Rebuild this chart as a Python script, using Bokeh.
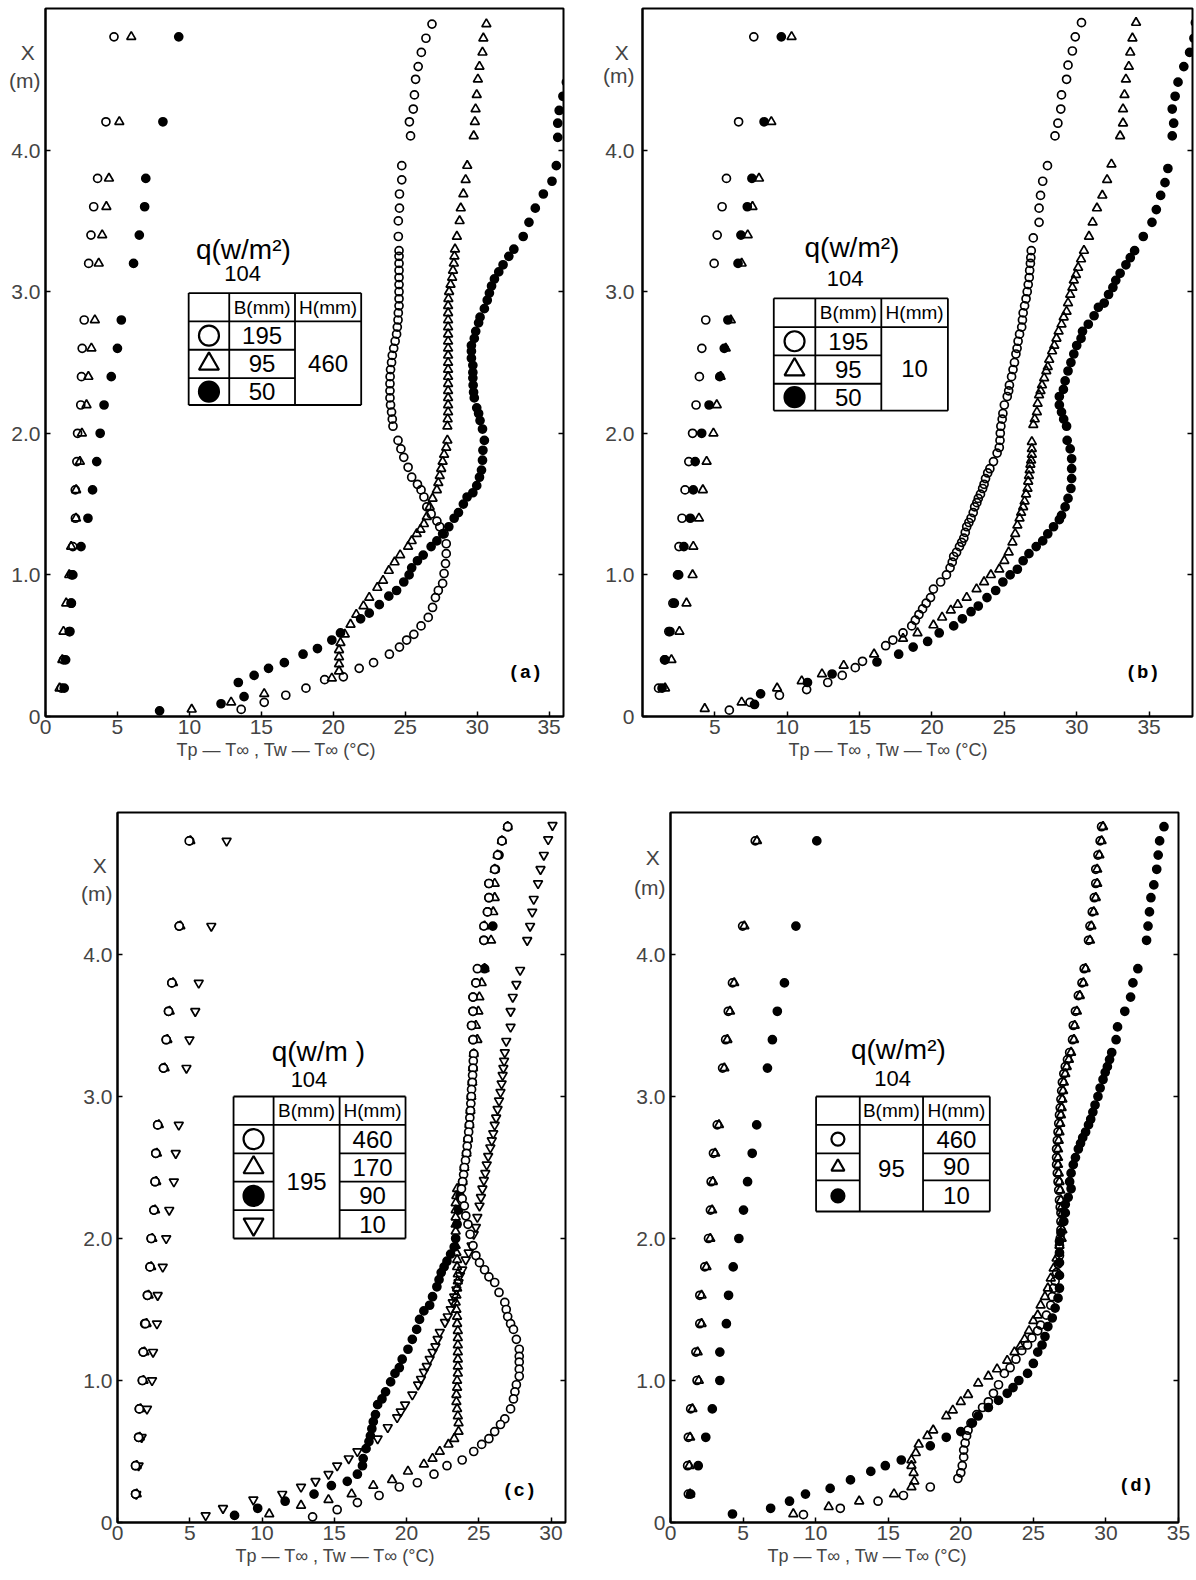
from bokeh.plotting import figure
from bokeh.layouts import column, row
from bokeh.models import Label, FixedTicker, LinearAxis, Range1d, Title
from bokeh.embed import file_html
from bokeh.resources import INLINE

# ---------------- data ----------------
LEFT_H = [0.2, 0.4, 0.6, 0.8, 1.0, 1.2, 1.4, 1.6, 1.8, 2.0, 2.2, 2.4, 2.6, 2.8, 3.2, 3.4, 3.6, 3.8, 4.2, 4.8]
Y_TICKS = [0, 1, 2, 3, 4]
Y_TICK_LABELS = ["0", "1.0", "2.0", "3.0", "4.0"]
X_TICKS_A = [0, 5, 10, 15, 20, 25, 30, 35]
X_TICKS_B = [5, 10, 15, 20, 25, 30, 35]
X_TICKS_C = [0, 5, 10, 15, 20, 25, 30]
X_TICKS_D = [0, 5, 10, 15, 20, 25, 30, 35]

# panel (a): H = 460 mm, B = 195 / 95 / 50 mm
a_left_circ = [1.1, 1.25, 1.65, 1.78, 1.81, 1.9, 2.08, 2.07, 2.18, 2.23, 2.45, 2.5, 2.55, 2.69, 3.0, 3.16, 3.35, 3.62, 4.2, 4.76]
a_left_tri = [0.98, 1.17, 1.25, 1.44, 1.65, 1.78, 2.12, 2.13, 2.39, 2.53, 2.85, 2.98, 3.19, 3.43, 3.7, 3.94, 4.23, 4.41, 5.13, 5.96]
a_left_fill = [1.3, 1.4, 1.7, 1.8, 1.9, 2.47, 2.95, 3.27, 3.56, 3.8, 4.07, 4.57, 5.0, 5.27, 6.12, 6.52, 6.89, 6.97, 8.16, 9.26]
a_wall_circ = [[4.89, 26.86], [4.79, 26.44], [4.69, 26.12], [4.59, 25.9], [4.5, 25.72], [4.39, 25.64], [4.29, 25.56], [4.2, 25.29], [4.1, 25.37],
               [3.89, 24.76], [3.79, 24.76], [3.69, 24.6], [3.59, 24.6], [3.5, 24.52], [3.39, 24.52], [3.29, 24.57], [3.25, 24.57], [3.2, 24.57],
               [3.15, 24.57], [3.1, 24.57], [3.05, 24.57], [3.0, 24.57], [2.95, 24.57], [2.9, 24.57], [2.85, 24.52], [2.8, 24.5], [2.75, 24.45],
               [2.7, 24.4], [2.65, 24.3], [2.6, 24.2], [2.55, 24.1], [2.5, 24.05], [2.45, 23.98], [2.4, 23.95], [2.35, 23.94], [2.3, 23.94],
               [2.25, 23.94], [2.2, 23.98], [2.15, 24.05], [2.1, 24.1], [2.05, 24.15], [1.95, 24.5], [1.89, 24.7], [1.83, 24.9], [1.76, 25.2],
               [1.69, 25.45], [1.64, 25.85], [1.6, 26.1], [1.55, 26.3], [1.48, 26.5], [1.43, 26.8], [1.38, 27.2], [1.34, 27.4], [1.29, 27.7],
               [1.22, 27.85], [1.15, 27.85], [1.08, 27.8], [1.01, 27.7], [0.94, 27.6], [0.89, 27.3], [0.84, 27.1], [0.77, 26.9], [0.7, 26.6],
               [0.64, 26.1], [0.58, 25.6], [0.54, 25.1], [0.49, 24.6], [0.44, 23.9], [0.38, 22.8], [0.34, 21.8], [0.28, 20.7], [0.26, 19.4],
               [0.2, 18.1], [0.15, 16.7], [0.1, 15.2], [0.05, 13.6]]
a_wall_tri = [[4.89, 30.64], [4.79, 30.43], [4.69, 30.37], [4.59, 30.16], [4.5, 30.05], [4.39, 29.97], [4.29, 29.89], [4.2, 29.84], [4.1, 29.76],
              [3.89, 29.31], [3.79, 29.2], [3.69, 29.04], [3.59, 28.86], [3.5, 28.78], [3.39, 28.59], [3.3, 28.46], [3.25, 28.42], [3.2, 28.38],
              [3.15, 28.32], [3.1, 28.26], [3.05, 28.15], [3.0, 28.05], [2.95, 28.0], [2.9, 27.98], [2.85, 27.98], [2.8, 27.98], [2.75, 27.98],
              [2.7, 27.98], [2.65, 27.98], [2.6, 27.98], [2.55, 27.98], [2.5, 27.98], [2.45, 27.98], [2.4, 27.98], [2.35, 27.98], [2.3, 27.98],
              [2.25, 27.98], [2.2, 27.98], [2.15, 27.98], [2.1, 27.95], [2.05, 27.93], [1.95, 27.93], [1.9, 27.85], [1.85, 27.7], [1.8, 27.6],
              [1.75, 27.5], [1.7, 27.4], [1.65, 27.3], [1.6, 27.2], [1.54, 26.9], [1.48, 26.7], [1.41, 26.5], [1.36, 26.3], [1.32, 26.06],
              [1.29, 25.8], [1.24, 25.45], [1.2, 25.2], [1.14, 24.65], [1.09, 24.26], [1.03, 23.86], [0.96, 23.46], [0.91, 23.06], [0.84, 22.5],
              [0.78, 22.1], [0.72, 21.6], [0.65, 21.2], [0.58, 20.8], [0.52, 20.5], [0.47, 20.4], [0.42, 20.4], [0.37, 20.4], [0.32, 20.4],
              [0.27, 19.9], [0.16, 15.2], [0.1, 12.9], [0.05, 10.16]]
a_wall_fill = [[4.88, 37.3], [4.78, 37.2], [4.68, 36.9], [4.59, 36.6], [4.48, 36.2], [4.38, 35.96], [4.28, 35.7], [4.19, 35.6], [4.09, 35.6],
               [3.89, 35.5], [3.78, 35.2], [3.69, 34.6], [3.59, 34.04], [3.49, 33.6], [3.39, 33.2], [3.3, 32.55], [3.25, 32.2], [3.19, 31.8],
               [3.14, 31.5], [3.09, 31.2], [3.04, 31.0], [2.99, 30.85], [2.94, 30.7], [2.88, 30.5], [2.82, 30.2], [2.78, 30.1], [2.72, 29.9],
               [2.67, 29.8], [2.62, 29.6], [2.58, 29.6], [2.53, 29.6], [2.48, 29.7], [2.43, 29.7], [2.39, 29.7], [2.34, 29.72], [2.29, 29.75],
               [2.25, 29.8], [2.18, 29.97], [2.14, 30.1], [2.09, 30.2], [2.03, 30.37], [1.95, 30.5], [1.88, 30.4], [1.81, 30.37], [1.74, 30.3],
               [1.69, 30.16], [1.63, 29.97], [1.58, 29.7], [1.55, 29.3], [1.5, 29.04], [1.44, 28.7], [1.4, 28.4], [1.34, 28.03], [1.29, 27.6],
               [1.24, 27.2], [1.2, 26.8], [1.14, 26.25], [1.1, 25.85], [1.05, 25.45], [1.0, 25.27], [0.95, 24.9], [0.89, 24.4], [0.85, 23.86],
               [0.79, 23.2], [0.73, 22.5], [0.69, 21.9], [0.59, 20.5], [0.54, 19.9], [0.48, 18.9], [0.44, 17.9], [0.38, 16.6], [0.34, 15.5],
               [0.29, 14.5], [0.24, 13.4], [0.14, 13.8], [0.09, 12.2], [0.04, 7.93]]

# panel (b): H = 10 mm, B = 195 / 95 / 50 mm
b_left_circ = [1.11, 1.52, 1.82, 2.1, 2.42, 2.52, 2.73, 2.94, 3.2, 3.46, 3.7, 3.93, 4.1, 4.37, 4.95, 5.16, 5.5, 5.8, 6.64, 7.69]
b_left_tri = [1.56, 2.0, 2.55, 3.04, 3.46, 3.51, 3.9, 4.17, 4.43, 4.9, 5.13, 5.4, 5.75, 6.1, 6.85, 7.27, 7.6, 8.05, 8.9, 10.3]
b_left_fill = [1.35, 1.56, 1.9, 2.2, 2.5, 2.86, 3.3, 3.51, 3.64, 4.09, 4.6, 5.34, 5.65, 5.9, 6.6, 6.8, 7.24, 7.56, 8.4, 9.59]
b_wall_circ = [[4.9, 30.33], [4.8, 29.9], [4.7, 29.7], [4.6, 29.4], [4.5, 29.3], [4.39, 28.95], [4.29, 28.9], [4.19, 28.7], [4.1, 28.5],
               [3.89, 27.98], [3.78, 27.65], [3.68, 27.5], [3.59, 27.4], [3.49, 27.4], [3.38, 27.0], [3.29, 26.86], [3.24, 26.83], [3.2, 26.8],
               [3.15, 26.75], [3.1, 26.72], [3.05, 26.65], [3.0, 26.58], [2.95, 26.5], [2.9, 26.4], [2.85, 26.3], [2.8, 26.25], [2.75, 26.2],
               [2.7, 26.05], [2.65, 25.95], [2.6, 25.88], [2.56, 25.8], [2.5, 25.7], [2.45, 25.6], [2.4, 25.5], [2.34, 25.35], [2.3, 25.3],
               [2.26, 25.2], [2.2, 25.0], [2.14, 24.9], [2.1, 24.85], [2.05, 24.76], [2.0, 24.72], [1.95, 24.7], [1.9, 24.65], [1.86, 24.5],
               [1.8, 24.25], [1.75, 24.0], [1.72, 23.85], [1.68, 23.7], [1.64, 23.6], [1.61, 23.5], [1.57, 23.35], [1.54, 23.2], [1.51, 23.1],
               [1.48, 22.95], [1.44, 22.85], [1.4, 22.7], [1.37, 22.55], [1.34, 22.4], [1.3, 22.3], [1.26, 22.2], [1.23, 22.05], [1.2, 21.9],
               [1.16, 21.7], [1.13, 21.5], [1.09, 21.4], [1.05, 21.25], [1.0, 21.0], [0.95, 20.6], [0.9, 20.1], [0.84, 19.9], [0.8, 19.6],
               [0.76, 19.35], [0.72, 19.1], [0.68, 18.85], [0.64, 18.6], [0.59, 18.0], [0.54, 17.3], [0.5, 16.8], [0.39, 15.2], [0.345, 14.7],
               [0.29, 13.8], [0.24, 12.8], [0.19, 11.34], [0.15, 9.46], [0.1, 7.43], [0.045, 6.0]]
b_wall_tri = [[4.9, 34.1], [4.79, 33.85], [4.69, 33.7], [4.59, 33.6], [4.5, 33.4], [4.39, 33.3], [4.29, 33.2], [4.19, 33.2], [4.1, 33.0],
              [3.9, 32.4], [3.79, 32.1], [3.68, 31.77], [3.59, 31.4], [3.49, 31.1], [3.39, 30.85], [3.29, 30.5], [3.23, 30.3], [3.17, 30.1],
              [3.12, 29.95], [3.08, 29.8], [3.03, 29.7], [2.98, 29.55], [2.92, 29.4], [2.86, 29.3], [2.82, 29.1], [2.77, 28.95], [2.72, 28.75],
              [2.67, 28.6], [2.62, 28.45], [2.58, 28.3], [2.52, 28.1], [2.47, 28.0], [2.44, 27.9], [2.39, 27.75], [2.34, 27.6], [2.3, 27.5],
              [2.27, 27.4], [2.21, 27.3], [2.15, 27.25], [2.1, 27.1], [2.06, 27.0], [1.94, 26.9], [1.89, 26.9], [1.85, 26.9], [1.81, 26.85],
              [1.78, 26.8], [1.74, 26.75], [1.7, 26.7], [1.66, 26.65], [1.61, 26.6], [1.57, 26.5], [1.52, 26.4], [1.48, 26.3], [1.44, 26.16],
              [1.4, 26.05], [1.35, 25.9], [1.29, 25.75], [1.23, 25.56], [1.16, 25.3], [1.1, 25.0], [1.04, 24.65], [1.0, 24.07], [0.95, 23.6],
              [0.9, 23.08], [0.84, 22.4], [0.79, 21.78], [0.75, 21.3], [0.7, 20.7], [0.645, 20.1], [0.59, 19.0], [0.55, 18.0], [0.44, 16.0],
              [0.36, 13.9], [0.3, 12.4], [0.25, 11.0], [0.2, 9.3], [0.1, 6.85], [0.055, 4.3]]
b_wall_fill = [[4.9, 38.2], [4.79, 38.1], [4.69, 37.8], [4.59, 37.4], [4.48, 37.0], [4.38, 36.8], [4.29, 36.6], [4.19, 36.7], [4.1, 36.6],
               [3.87, 36.3], [3.77, 36.1], [3.68, 35.8], [3.58, 35.5], [3.49, 35.2], [3.39, 34.6], [3.29, 34.0], [3.24, 33.7], [3.19, 33.4],
               [3.13, 33.0], [3.08, 32.7], [3.03, 32.5], [2.98, 32.2], [2.92, 31.9], [2.89, 31.5], [2.83, 31.2], [2.77, 30.8], [2.72, 30.4],
               [2.67, 30.3], [2.62, 30.0], [2.56, 29.8], [2.5, 29.6], [2.44, 29.4], [2.37, 29.2], [2.31, 29.08], [2.26, 28.8], [2.2, 28.8],
               [2.15, 28.95], [2.1, 29.1], [2.05, 29.3], [1.95, 29.34], [1.89, 29.55], [1.82, 29.65], [1.75, 29.65], [1.68, 29.65], [1.61, 29.6],
               [1.54, 29.4], [1.48, 29.2], [1.42, 28.95], [1.39, 28.8], [1.34, 28.4], [1.29, 28.0], [1.24, 27.65], [1.2, 27.2], [1.15, 26.7],
               [1.1, 26.3], [1.04, 25.9], [1.0, 25.4], [0.95, 24.9], [0.89, 24.4], [0.84, 23.8], [0.78, 23.2], [0.74, 22.7], [0.69, 22.1],
               [0.64, 21.5], [0.59, 20.5], [0.53, 19.7], [0.49, 18.7], [0.44, 17.7], [0.385, 16.2], [0.3, 13.1], [0.24, 11.4], [0.16, 8.16],
               [0.085, 7.74]]

# panel (c): B = 195 mm, H = 460 / 170 / 90 / 10 mm
c_left_circ = [1.25, 1.25, 1.46, 1.51, 1.72, 1.78, 1.93, 2.07, 2.25, 2.33, 2.52, 2.6, 2.65, 2.78, 3.18, 3.37, 3.53, 3.76, 4.27, 4.96]
c_left_tri = [1.33, 1.33, 1.54, 1.59, 1.8, 1.86, 2.01, 2.15, 2.33, 2.41, 2.6, 2.68, 2.73, 2.86, 3.26, 3.45, 3.61, 3.84, 4.35, 5.04]
c_left_fill = [1.25, 1.25, 1.46, 1.51, 1.72, 1.78, 1.88, 2.07, 2.25, 2.33, 2.52, 2.6, 2.65, 2.78, 3.18, 3.37, 3.53, 3.76, 4.27, 5.0]
c_left_inv = [1.3, 1.46, 1.67, 2.04, 2.39, 2.46, 2.73, 2.78, 3.13, 3.37, 3.58, 3.9, 4.03, 4.24, 4.77, 4.98, 5.38, 5.62, 6.49, 7.55]
c_wall_circ = [[4.9, 27.0], [4.8, 26.6], [4.7, 26.3], [4.6, 26.1], [4.5, 25.7], [4.4, 25.7], [4.3, 25.6], [4.2, 25.35], [4.1, 25.35],
               [3.9, 24.9], [3.8, 24.8], [3.7, 24.6], [3.6, 24.6], [3.5, 24.5], [3.4, 24.6], [3.3, 24.65], [3.25, 24.62], [3.2, 24.6],
               [3.15, 24.57], [3.1, 24.55], [3.05, 24.5], [3.0, 24.48], [2.95, 24.45], [2.9, 24.42], [2.85, 24.38], [2.8, 24.35], [2.75, 24.3],
               [2.7, 24.25], [2.65, 24.2], [2.6, 24.15], [2.55, 24.08], [2.5, 24.0], [2.45, 23.95], [2.4, 23.88], [2.35, 23.8], [2.28, 23.85],
               [2.23, 24.0], [2.16, 24.1], [2.1, 24.25], [2.03, 24.4], [1.95, 24.6], [1.88, 24.8], [1.83, 25.05], [1.78, 25.4], [1.73, 25.7],
               [1.69, 26.1], [1.62, 26.4], [1.55, 26.8], [1.5, 26.9], [1.45, 27.0], [1.4, 27.2], [1.36, 27.4], [1.29, 27.6], [1.22, 27.8],
               [1.17, 27.8], [1.13, 27.8], [1.08, 27.8], [1.03, 27.8], [0.97, 27.6], [0.92, 27.5], [0.87, 27.4], [0.8, 27.2], [0.73, 26.8],
               [0.69, 26.5], [0.64, 26.1], [0.59, 25.7], [0.55, 25.2], [0.5, 24.65], [0.44, 23.85], [0.4, 22.8], [0.34, 21.9], [0.28, 20.75],
               [0.25, 19.5], [0.19, 18.1], [0.14, 16.6], [0.09, 15.2], [0.04, 13.5]]
c_wall_tri = [[4.9, 27.0], [4.8, 26.6], [4.7, 26.3], [4.6, 26.1], [4.5, 26.1], [4.4, 26.1], [4.3, 26.0], [4.2, 25.4], [4.1, 25.85],
              [3.9, 25.4], [3.8, 25.2], [3.7, 25.04], [3.6, 24.97], [3.5, 24.8], [3.4, 24.9], [3.3, 24.65], [3.2, 24.6], [3.1, 24.55],
              [3.0, 24.48], [2.9, 24.42], [2.8, 24.35], [2.7, 24.25], [2.6, 24.15], [2.5, 24.0], [2.4, 23.88], [2.35, 23.5], [2.3, 23.45],
              [2.25, 23.4], [2.2, 23.4], [2.15, 23.4], [2.1, 23.4], [2.05, 23.4], [1.95, 23.4], [1.9, 23.45], [1.85, 23.5], [1.8, 23.5],
              [1.75, 23.55], [1.7, 23.55], [1.65, 23.5], [1.6, 23.45], [1.55, 23.4], [1.5, 23.45], [1.45, 23.5], [1.4, 23.5], [1.35, 23.55],
              [1.3, 23.55], [1.25, 23.55], [1.2, 23.55], [1.15, 23.55], [1.1, 23.55], [1.05, 23.55], [1.0, 23.5], [0.95, 23.5], [0.9, 23.45],
              [0.85, 23.45], [0.8, 23.5], [0.75, 23.55], [0.7, 23.6], [0.64, 23.6], [0.59, 23.3], [0.55, 22.9], [0.5, 22.3], [0.45, 21.8],
              [0.41, 21.2], [0.36, 20.1], [0.3, 19.0], [0.26, 17.7], [0.2, 16.2], [0.16, 14.6], [0.12, 12.7], [0.06, 10.5]]
c_wall_fill = [[4.9, 27.0], [4.8, 26.6], [4.7, 26.4], [4.6, 26.15], [4.5, 25.7], [4.4, 25.7], [4.3, 25.6], [4.2, 25.97], [4.1, 25.35],
               [3.9, 25.4], [3.8, 24.8], [3.7, 24.6], [3.6, 24.6], [3.5, 24.5], [3.4, 24.6], [3.3, 24.65], [3.2, 24.6], [3.1, 24.55],
               [3.0, 24.48], [2.9, 24.42], [2.8, 24.35], [2.7, 24.25], [2.6, 24.15], [2.5, 24.0], [2.4, 23.88], [2.3, 23.7], [2.2, 23.6],
               [2.1, 23.5], [2.0, 23.4], [1.94, 23.3], [1.89, 23.05], [1.84, 22.8], [1.8, 22.6], [1.76, 22.4], [1.71, 22.25], [1.66, 22.1],
               [1.59, 21.8], [1.53, 21.6], [1.49, 21.2], [1.43, 20.9], [1.36, 20.7], [1.29, 20.4], [1.22, 20.1], [1.15, 19.7], [1.09, 19.5],
               [1.05, 19.2], [0.99, 18.9], [0.92, 18.55], [0.87, 18.3], [0.83, 18.0], [0.76, 17.85], [0.71, 17.7], [0.66, 17.6], [0.61, 17.5],
               [0.57, 17.4], [0.52, 17.2], [0.45, 17.0], [0.4, 16.95], [0.34, 16.6], [0.29, 15.9], [0.26, 14.8], [0.2, 13.6], [0.15, 11.6],
               [0.1, 9.7], [0.05, 8.1]]
c_wall_inv = [[4.91, 30.1], [4.81, 29.8], [4.7, 29.5], [4.6, 29.27], [4.5, 29.1], [4.39, 28.8], [4.3, 28.7], [4.2, 28.55], [4.1, 28.35],
              [3.89, 27.86], [3.79, 27.6], [3.7, 27.35], [3.6, 27.2], [3.49, 27.2], [3.39, 26.9], [3.31, 26.8], [3.25, 26.75], [3.2, 26.7],
              [3.15, 26.65], [3.09, 26.58], [3.03, 26.5], [2.97, 26.4], [2.91, 26.3], [2.85, 26.2], [2.8, 26.1], [2.74, 26.0], [2.69, 25.9],
              [2.64, 25.8], [2.58, 25.65], [2.52, 25.55], [2.46, 25.45], [2.41, 25.35], [2.35, 25.25], [2.29, 25.15], [2.23, 25.05], [2.15, 24.9],
              [2.08, 24.8], [2.03, 24.65], [1.95, 24.5], [1.9, 24.3], [1.85, 24.1], [1.78, 23.85], [1.74, 23.7], [1.69, 23.6], [1.64, 23.45],
              [1.59, 23.3], [1.55, 23.2], [1.5, 23.06], [1.45, 22.85], [1.41, 22.66], [1.34, 22.3], [1.29, 22.15], [1.24, 22.0], [1.2, 21.8],
              [1.15, 21.6], [1.1, 21.4], [1.06, 21.2], [1.01, 21.0], [0.97, 20.8], [0.9, 20.4], [0.83, 19.9], [0.78, 19.6], [0.74, 19.35],
              [0.67, 18.7], [0.59, 18.0], [0.5, 16.6], [0.45, 16.0], [0.4, 15.2], [0.34, 14.6], [0.29, 13.7], [0.25, 12.7], [0.2, 11.4],
              [0.16, 9.4], [0.1, 7.3], [0.05, 6.1]]

# panel (d): B = 95 mm, H = 460 / 90 / 10 mm
d_left_circ = [1.23, 1.18, 1.23, 1.39, 1.83, 1.75, 2.02, 2.02, 2.36, 2.62, 2.75, 2.8, 2.96, 3.22, 3.59, 3.8, 3.98, 4.27, 4.97, 5.84]
d_left_tri = [1.35, 1.3, 1.35, 1.51, 1.95, 1.87, 2.14, 2.14, 2.48, 2.74, 2.87, 2.92, 3.08, 3.34, 3.71, 3.92, 4.1, 4.39, 5.09, 5.96]
d_left_fill = [1.39, 1.91, 2.43, 2.88, 3.4, 3.4, 3.85, 4.0, 4.32, 4.71, 5.03, 5.31, 5.63, 5.94, 6.68, 7.02, 7.36, 7.85, 8.64, 10.08]
d_wall_circ = [[4.9, 29.7], [4.8, 29.6], [4.7, 29.45], [4.6, 29.3], [4.5, 29.3], [4.4, 29.2], [4.3, 29.06], [4.2, 28.9], [4.1, 28.8],
               [3.9, 28.5], [3.8, 28.35], [3.71, 28.1], [3.6, 27.9], [3.5, 27.75], [3.4, 27.7], [3.31, 27.5], [3.26, 27.35], [3.21, 27.2],
               [3.16, 27.1], [3.1, 27.0], [3.04, 26.95], [2.98, 26.9], [2.92, 26.85], [2.87, 26.8], [2.81, 26.75], [2.75, 26.7], [2.69, 26.65],
               [2.63, 26.6], [2.57, 26.6], [2.52, 26.6], [2.46, 26.65], [2.4, 26.7], [2.34, 26.75], [2.27, 26.8], [2.22, 26.85], [2.18, 26.9],
               [2.12, 26.9], [2.06, 26.9], [2.0, 26.85], [1.95, 26.8], [1.88, 26.8], [1.82, 26.7], [1.76, 26.6], [1.7, 26.5], [1.65, 26.4],
               [1.59, 26.3], [1.53, 26.2], [1.46, 25.9], [1.39, 25.5], [1.35, 25.3], [1.3, 24.9], [1.25, 24.6], [1.21, 24.2], [1.15, 23.8],
               [1.09, 23.4], [1.05, 23.0], [0.97, 22.6], [0.91, 22.25], [0.85, 21.9], [0.81, 21.5], [0.76, 21.1], [0.7, 20.7], [0.65, 20.5],
               [0.61, 20.4], [0.56, 20.3], [0.51, 20.2], [0.46, 20.2], [0.4, 20.1], [0.35, 20.0], [0.31, 19.8], [0.25, 17.9], [0.19, 16.05],
               [0.15, 14.3], [0.1, 11.7], [0.055, 9.16]]
d_wall_tri = [[4.9, 29.8], [4.8, 29.7], [4.7, 29.55], [4.6, 29.4], [4.5, 29.4], [4.4, 29.3], [4.3, 29.16], [4.2, 29.0], [4.1, 28.9],
              [3.9, 28.6], [3.8, 28.45], [3.71, 28.2], [3.6, 28.0], [3.5, 27.85], [3.4, 27.8], [3.31, 27.6], [3.26, 27.45], [3.21, 27.3],
              [3.16, 27.2], [3.1, 27.1], [3.04, 27.05], [2.98, 27.0], [2.92, 26.95], [2.87, 26.9], [2.81, 26.85], [2.75, 26.8], [2.69, 26.75],
              [2.63, 26.7], [2.57, 26.7], [2.52, 26.7], [2.46, 26.75], [2.4, 26.8], [2.34, 26.85], [2.27, 26.9], [2.22, 26.95], [2.18, 27.0],
              [2.12, 27.0], [2.06, 27.0], [2.0, 26.95], [1.95, 26.8], [1.86, 26.6], [1.79, 26.4], [1.72, 26.2], [1.65, 26.0], [1.59, 25.8],
              [1.53, 25.5], [1.46, 25.3], [1.42, 25.0], [1.35, 24.7], [1.29, 24.4], [1.24, 24.1], [1.2, 23.7], [1.14, 23.2], [1.08, 22.5],
              [1.03, 21.9], [0.98, 21.2], [0.9, 20.5], [0.85, 20.0], [0.79, 19.45], [0.75, 19.0], [0.65, 18.1], [0.61, 17.7], [0.55, 17.1],
              [0.49, 16.9], [0.44, 16.6], [0.4, 16.6], [0.35, 16.75], [0.29, 16.8], [0.25, 16.6], [0.2, 15.4], [0.15, 13.0], [0.11, 10.9],
              [0.06, 8.46]]
d_wall_fill = [[4.9, 34.0], [4.8, 33.7], [4.7, 33.6], [4.6, 33.5], [4.49, 33.3], [4.4, 33.1], [4.3, 33.0], [4.2, 32.9], [4.1, 32.8],
               [3.9, 32.2], [3.8, 31.86], [3.7, 31.7], [3.6, 31.3], [3.49, 30.8], [3.4, 30.7], [3.31, 30.4], [3.26, 30.25], [3.21, 30.1],
               [3.17, 29.95], [3.12, 29.8], [3.06, 29.6], [3.0, 29.45], [2.94, 29.25], [2.89, 29.1], [2.84, 28.95], [2.8, 28.8], [2.75, 28.6],
               [2.71, 28.4], [2.67, 28.25], [2.63, 28.1], [2.57, 27.9], [2.52, 27.75], [2.46, 27.6], [2.4, 27.5], [2.35, 27.6], [2.29, 27.4],
               [2.24, 27.2], [2.18, 27.2], [2.12, 27.1], [2.04, 26.9], [1.98, 26.8], [1.9, 26.8], [1.83, 26.8], [1.74, 26.8], [1.65, 26.8],
               [1.58, 26.7], [1.51, 26.5], [1.44, 26.3], [1.38, 26.0], [1.31, 25.8], [1.25, 25.6], [1.2, 25.3], [1.12, 25.0], [1.05, 24.6],
               [1.0, 24.0], [0.95, 23.6], [0.91, 23.2], [0.86, 22.6], [0.81, 21.9], [0.75, 21.2], [0.7, 20.8], [0.64, 20.0], [0.6, 19.0],
               [0.54, 17.9], [0.44, 15.9], [0.4, 14.8], [0.36, 13.8], [0.3, 12.4], [0.24, 11.0], [0.2, 9.3], [0.15, 8.2], [0.1, 6.9],
               [0.06, 4.27]]

# legend tables
a_B = ["195", "95", "50"]
a_H = ["460"]
b_B = ["195", "95", "50"]
b_H = ["10"]
c_B = ["195"]
c_H = ["460", "170", "90", "10"]
d_B = ["95"]
d_H = ["460", "90", "10"]

FONT = "Liberation Sans"
XTITLE = "Tp — T∞ ,  Tw — T∞  (°C)"

STY = {
    "circ": dict(marker="circle", fill_color=None, line_color="black"),
    "circw": dict(marker="circle", fill_color="white", line_color="black"),
    "tri": dict(marker="triangle", fill_color=None, line_color="black"),
    "fill": dict(marker="circle", fill_color="black", line_color="black"),
    "inv": dict(marker="inverted_triangle", fill_color=None, line_color="black"),
}
SIZE = {"circ": 8, "circw": 8, "tri": 9, "fill": 8, "inv": 9}


def base_fig(W, H, L, R, T, B, xmax, xticks, xm_pos, title_offset, lab_standoff):
    p = figure(width=W, height=H, x_range=Range1d(0, xmax), y_range=Range1d(0, 5.0),
               output_backend="svg", toolbar_location=None,
               min_border_left=L, min_border_right=R, min_border_top=T, min_border_bottom=B)
    p.grid.visible = False
    p.outline_line_color = "black"
    p.outline_line_width = 2
    p.background_fill_color = "white"
    p.border_fill_color = "white"
    xa = p.xaxis[0]
    xa.ticker = FixedTicker(ticks=xticks)
    xa.major_tick_in = 5
    xa.major_tick_out = 0
    xa.minor_tick_line_color = None
    xa.axis_line_width = 2
    xa.major_tick_line_width = 1.5
    xa.major_label_text_font = FONT
    xa.major_label_text_font_size = "21px"
    xa.major_label_standoff = 3
    # inner y axis: tick marks only
    ya = p.yaxis[0]
    ya.ticker = FixedTicker(ticks=Y_TICKS)
    ya.major_label_overrides = {t: "" for t in Y_TICKS}
    ya.major_label_text_font_size = "1px"
    ya.major_label_standoff = 0
    ya.major_tick_in = 5
    ya.major_tick_out = 0
    ya.minor_tick_line_color = None
    ya.axis_line_width = 2
    ya.major_tick_line_width = 1.5
    # outer y axis: tick labels and the "X (m)" caption
    lt = Y_TICKS + list(xm_pos)
    ll = Y_TICK_LABELS + ["X\u00a0", "(m)"]
    yl = LinearAxis(ticker=FixedTicker(ticks=lt), major_label_overrides={t: s for t, s in zip(lt, ll)},
                    major_label_text_font=FONT, major_label_text_font_size="21px",
                    major_label_standoff=lab_standoff, major_tick_in=0, major_tick_out=0,
                    major_tick_line_color=None, minor_tick_line_color=None, axis_line_color=None)
    p.add_layout(yl, "left")
    ra = LinearAxis(ticker=FixedTicker(ticks=[1, 2, 3, 4]),
                    major_label_overrides={1: "", 2: "", 3: "", 4: ""},
                    major_label_text_font_size="1px", major_label_standoff=0,
                    major_tick_in=5, major_tick_out=0, minor_tick_line_color=None,
                    axis_line_color=None, major_tick_line_width=1.5)
    p.add_layout(ra, "right")
    t = Title(text=XTITLE, align="left", offset=title_offset, text_font=FONT, text_font_size="18px",
              text_font_style="normal", standoff=2)
    p.add_layout(t, "below")
    return p


def pts(p, pairs, kind):
    p.scatter(x=[v[1] for v in pairs], y=[v[0] for v in pairs], size=SIZE[kind], line_width=1.7, **STY[kind])


def left(p, xs, kind):
    p.scatter(x=xs, y=LEFT_H, size=SIZE[kind], line_width=1.7, **STY[kind])


def lab(p, x, y, text, size, font=FONT, style="normal", align="center"):
    p.add_layout(Label(x=x, y=y, text=text, text_font=font, text_font_size=size, text_font_style=style,
                       text_align=align, text_baseline="middle", text_color="black"))


def table(p, xs, ys, kinds, msize, Bv, Hv, tsize, title_xy, num_xy, title_text, lw=1.8):
    x0, x3 = xs[0], xs[-1]
    sx0, sy0, sx1, sy1 = [], [], [], []

    def seg(a, b, c, d):
        sx0.append(a); sy0.append(b); sx1.append(c); sy1.append(d)
    seg(x0, ys[0], x3, ys[0])
    seg(x0, ys[-1], x3, ys[-1])
    seg(x0, ys[1], x3, ys[1])
    for xv in xs:
        seg(xv, ys[0], xv, ys[-1])
    for yv in ys[2:-1]:
        seg(xs[0], yv, xs[1], yv)
        if len(Bv) > 1:
            seg(xs[1], yv, xs[2], yv)
        if len(Hv) > 1:
            seg(xs[2], yv, xs[3], yv)
    p.segment(x0=sx0, y0=sy0, x1=sx1, y1=sy1, line_color="black", line_width=lw)
    cx = [(xs[i] + xs[i + 1]) / 2 for i in range(3)]
    rows = [(ys[i] + ys[i + 1]) / 2 for i in range(1, len(ys) - 1)]
    hy = (ys[0] + ys[1]) / 2
    lab(p, cx[1], hy, "B(mm)", "19px")
    lab(p, cx[2], hy, "H(mm)", "19px")
    for k, ry in zip(kinds, rows):
        p.scatter(x=[cx[0]], y=[ry], size=msize, line_width=2.2, **STY[k])
    mid = (ys[1] + ys[-1]) / 2
    if len(Bv) > 1:
        for v, ry in zip(Bv, rows):
            lab(p, cx[1], ry, v, tsize)
    else:
        lab(p, cx[1], mid, Bv[0], tsize)
    if len(Hv) > 1:
        for v, ry in zip(Hv, rows):
            lab(p, cx[2], ry, v, tsize)
    else:
        lab(p, cx[2], mid, Hv[0], tsize)
    lab(p, title_xy[0], title_xy[1], title_text, "28px")
    lab(p, num_xy[0], num_xy[1], "104", "22px")


# ---------------- panel (a) ----------------
pa = base_fig(600, 780, 45, 37, 8, 62, 36, X_TICKS_A, (4.69, 4.49), 131, 5)
left(pa, a_left_fill, "fill"); left(pa, a_left_circ, "circ"); left(pa, a_left_tri, "tri")
pts(pa, a_wall_fill, "fill"); pts(pa, a_wall_circ, "circ"); pts(pa, a_wall_tri, "tri")
table(pa, [9.95, 12.77, 17.34, 21.94], [2.99, 2.79, 2.59, 2.39, 2.2], ["circ", "tri", "fill"], 20,
      a_B, a_H, "24px", (13.75, 3.3), (13.7, 3.13), "q(w/m²)")
lab(pa, 33.35, 0.31, "(a)", "19px", font="Liberation Mono", style="bold")

# ---------------- panel (b) ----------------
pb = base_fig(596, 780, 37, 4, 7, 64, 38, X_TICKS_B, (4.69, 4.53), 146, 8)
left(pb, b_left_fill, "fill"); left(pb, b_left_circ, "circ"); left(pb, b_left_tri, "tri")
pts(pb, b_wall_fill, "fill"); pts(pb, b_wall_circ, "circ"); pts(pb, b_wall_tri, "tri")
table(pb, [9.07, 11.94, 16.5, 21.1], [2.953, 2.75, 2.55, 2.35, 2.16], ["circ", "tri", "fill"], 20,
      b_B, b_H, "24px", (14.47, 3.31), (14.0, 3.09), "q(w/m²)")
lab(pb, 34.56, 0.31, "(b)", "19px", font="Liberation Mono", style="bold")

# ---------------- panel (c) ----------------
pc = base_fig(600, 798, 117, 35, 27, 56, 31, X_TICKS_C, (4.63, 4.43), 118, 5)
left(pc, c_left_fill, "fill"); left(pc, c_left_tri, "tri"); left(pc, c_left_inv, "inv"); left(pc, c_left_circ, "circw")
pts(pc, c_wall_fill, "fill"); pts(pc, c_wall_tri, "tri"); pts(pc, c_wall_inv, "inv"); pts(pc, c_wall_circ, "circw")
table(pc, [8.03, 10.8, 15.37, 19.93], [3.0, 2.8, 2.6, 2.4, 2.2, 2.0], ["circ", "tri", "fill", "inv"], 20,
      c_B, c_H, "24px", (13.9, 3.32), (13.25, 3.12), "q(w/m )")
lab(pc, 27.8, 0.22, "(c)", "19px", font="Liberation Mono", style="bold")

# ---------------- panel (d) ----------------
pd_ = base_fig(596, 798, 70, 18, 32, 51, 35, X_TICKS_D, (4.68, 4.47), 97, 5)
left(pd_, d_left_fill, "fill"); left(pd_, d_left_circ, "circ"); left(pd_, d_left_tri, "tri")
pts(pd_, d_wall_fill, "fill"); pts(pd_, d_wall_circ, "circ"); pts(pd_, d_wall_tri, "tri")
table(pd_, [10.03, 13.04, 17.4, 22.0], [3.0, 2.8, 2.6, 2.41, 2.19], ["circ", "tri", "fill"], 13,
      d_B, d_H, "24px", (15.7, 3.33), (15.3, 3.13), "q(w/m²)")
lab(pd_, 32.07, 0.26, "(d)", "19px", font="Liberation Mono", style="bold")

layout = column(row(pa, pb), row(pc, pd_))
open("out.html", "w").write(file_html(layout, INLINE))
